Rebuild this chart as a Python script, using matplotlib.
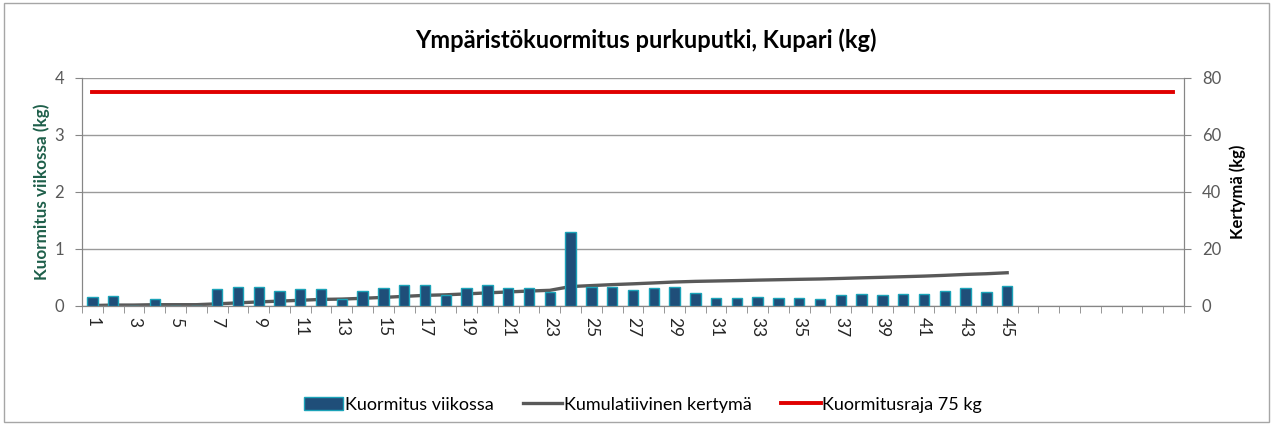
import matplotlib.pyplot as plt
from matplotlib.patches import Rectangle
from matplotlib.lines import Line2D
from matplotlib.patches import Patch

plt.rcParams["font.family"] = ["Lato", "DejaVu Sans"]

viikot = list(range(1, 54))
kuormitus = [0.16, 0.17, 0.0, 0.13, 0.0, 0.0, 0.30, 0.34, 0.34, 0.27,
             0.30, 0.30, 0.12, 0.27, 0.32, 0.36, 0.36, 0.19, 0.32, 0.36,
             0.32, 0.32, 0.25, 1.30, 0.34, 0.34, 0.28, 0.31, 0.33, 0.22,
             0.14, 0.14, 0.16, 0.14, 0.14, 0.12, 0.19, 0.21, 0.19, 0.21,
             0.21, 0.27, 0.32, 0.24, 0.35]
kertyma = [0.16, 0.33, 0.33, 0.46, 0.46, 0.46, 0.76, 1.10, 1.44, 1.71,
           2.01, 2.31, 2.43, 2.70, 3.02, 3.38, 3.74, 3.93, 4.25, 4.61,
           4.93, 5.25, 5.50, 6.82, 7.16, 7.50, 7.78, 8.09, 8.42, 8.64,
           8.78, 8.92, 9.08, 9.22, 9.36, 9.48, 9.67, 9.88, 10.07, 10.28,
           10.49, 10.76, 11.08, 11.32, 11.67]
raja = [75] * len(viikot)
otsikko = "Ympäristökuormitus purkuputki, Kupari (kg)"

fig = plt.figure(figsize=(12.73, 4.25), dpi=100)
fig.patches.append(Rectangle((0.003, 0.008), 0.994, 0.985, transform=fig.transFigure,
                             fill=False, edgecolor="#a6a6a6", linewidth=1))

ax = fig.add_axes([0.0644, 0.28, 0.8656, 0.5365])
ax2 = ax.twinx()
ax.set_zorder(ax2.get_zorder() + 1)
ax.patch.set_visible(False)

x = list(range(len(viikot)))
ax.bar(x[:len(kuormitus)], kuormitus, width=0.5, color="#1f4e79",
       edgecolor="#1ba3b8", linewidth=1.0, zorder=3)
ax2.plot(x[:len(kertyma)], kertyma, color="#595959", linewidth=2.4, zorder=2)
ax2.plot(x, raja, color="#e00000", linewidth=2.8, zorder=2)

ax.set_xlim(-0.5, len(viikot) - 0.5)
ax.set_ylim(0, 4)
ax2.set_ylim(0, 80)
ax.set_yticks([0, 1, 2, 3, 4])
ax2.set_yticks([0, 20, 40, 60, 80])
ax.grid(axis="y", color="#9a9a9a", linewidth=1, zorder=0)

ax.set_xticks(x[:45:2])
ax.set_xticklabels([str(v) for v in viikot[:45:2]], rotation=-90)
ax.set_xticks([i - 0.5 for i in range(len(viikot) + 1)], minor=True)
ax.tick_params(axis="x", which="major", length=0, pad=8, labelsize=12.5, labelcolor="#262626")
ax.tick_params(axis="x", which="minor", length=5, color="#868686")
ax.tick_params(axis="y", length=5, pad=8, color="#868686", labelsize=12, labelcolor="#595959")
ax2.tick_params(axis="y", length=5, pad=8, color="#868686", labelsize=12, labelcolor="#595959")

for a in (ax, ax2):
    a.spines["top"].set_visible(False)
    for s in ("left", "right", "bottom"):
        a.spines[s].set_color("#868686")

ax.set_ylabel("Kuormitus viikossa (kg)", color="#1e5f4a", fontweight="bold", fontsize=12.3, labelpad=3)
ax2.set_ylabel("Kertymä (kg)", color="#000000", fontweight="bold", fontsize=12, labelpad=6)

fig.text(0.507, 0.905, otsikko, ha="center", va="center", fontsize=17, fontweight="bold")

handles = [Patch(facecolor="#1f4e79", edgecolor="#1ba3b8"),
           Line2D([], [], color="#595959", linewidth=2.4),
           Line2D([], [], color="#e00000", linewidth=2.8)]
labels = ["Kuormitus viikossa", "Kumulatiivinen kertymä", "Kuormitusraja 75 kg"]
fig.legend(handles, labels, loc="center", bbox_to_anchor=(0.505, 0.048), ncol=3,
           frameon=False, fontsize=13, handlelength=2.2, handletextpad=0.1, columnspacing=1.6)

fig.savefig("out.png", dpi=100)
